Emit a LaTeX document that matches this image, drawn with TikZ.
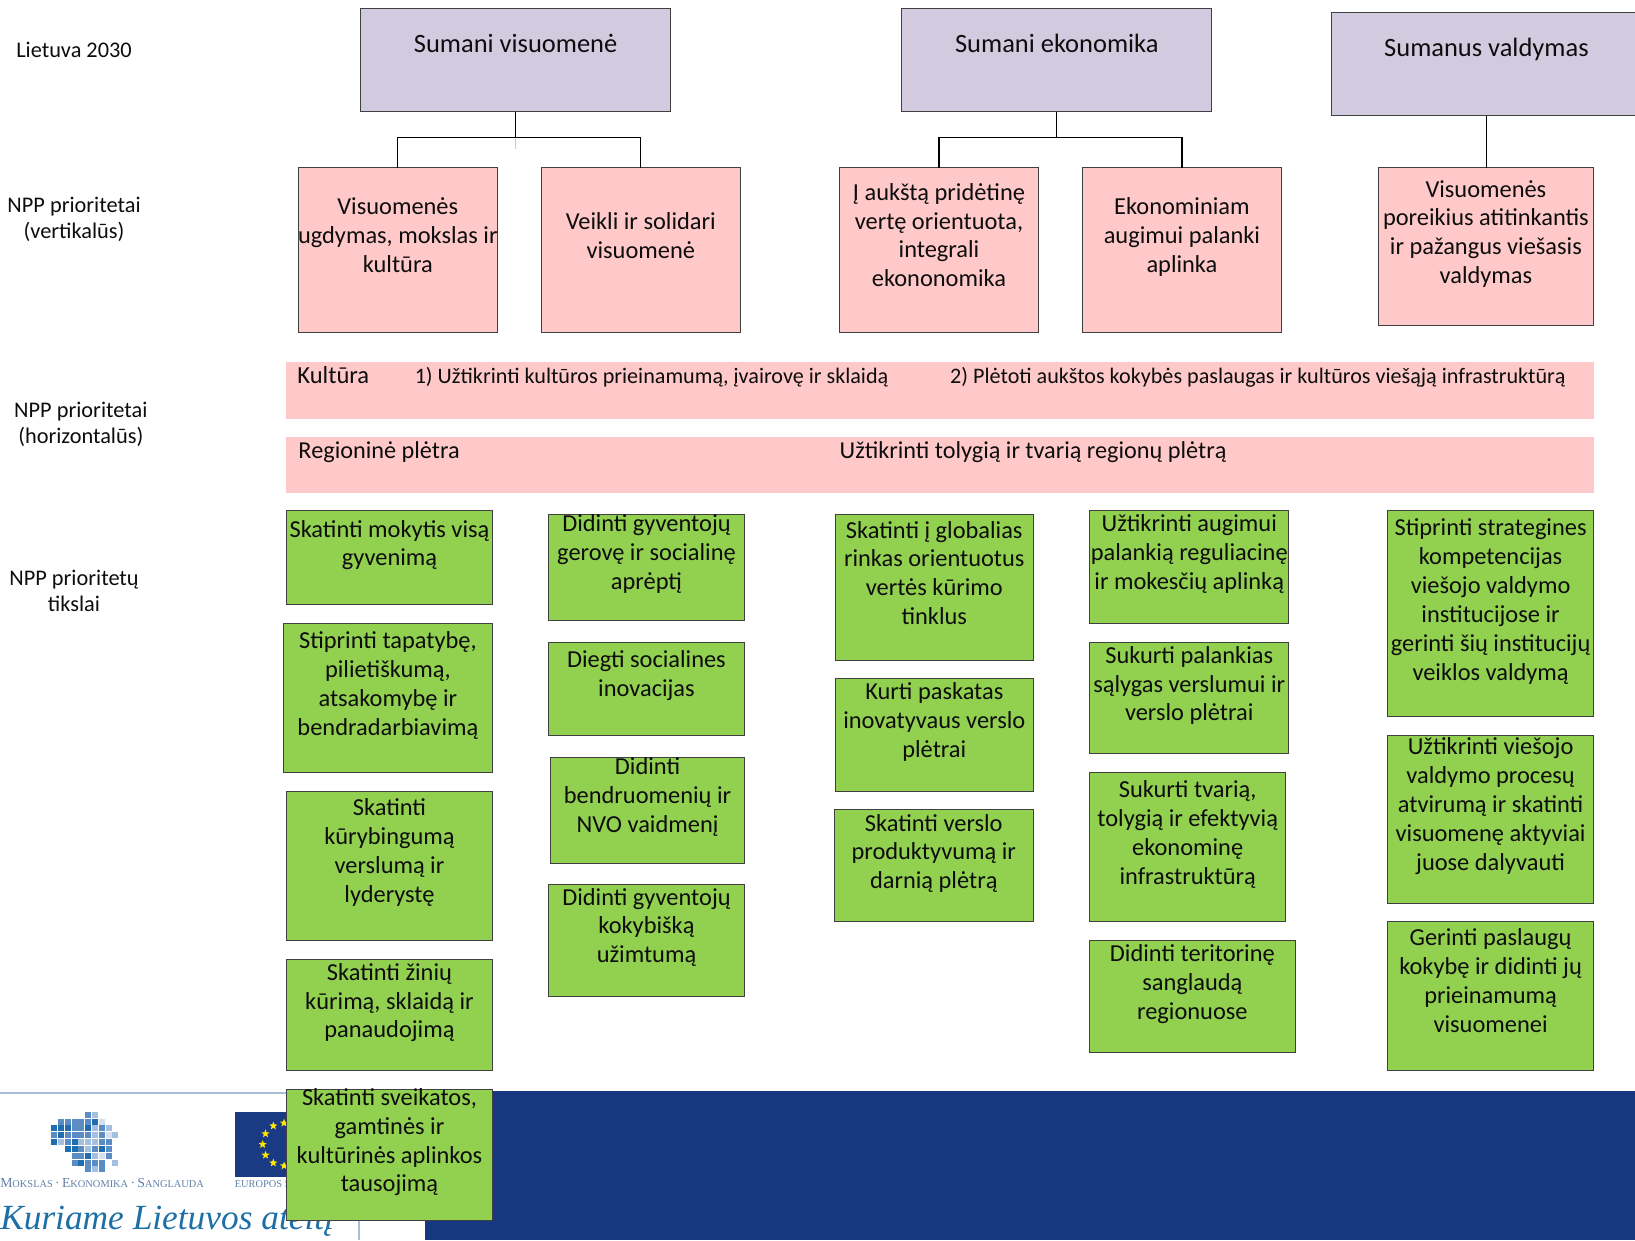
\documentclass[tikz,border=0pt]{standalone}
\usepackage{fontspec}
\setmainfont{Carlito}
\newfontfamily\logofont{Liberation Serif}
\usetikzlibrary{shapes.geometric}
\definecolor{purplebox}{HTML}{D2CBDF}
\definecolor{pinkbox}{HTML}{FFC9C9}
\definecolor{greenbox}{HTML}{92D050}
\definecolor{navy}{HTML}{17377F}
\definecolor{rulecol}{HTML}{A8BBD8}
\definecolor{lgD}{HTML}{1F6FB0}
\definecolor{lgM}{HTML}{5B8DC4}
\definecolor{lgL}{HTML}{A5BFE0}
\definecolor{lgP}{HTML}{D5E0EF}
\definecolor{logotext}{HTML}{5F7FA8}
\definecolor{kuriame}{HTML}{1D6FA5}
\definecolor{euro}{HTML}{1B3A84}
\newdimen\un \un=0.78203pt
\tikzset{
 x=0.78203pt,y=-0.78203pt,
 boxbase/.style={draw=black!75,line width=0.75pt,inner sep=0pt,outer sep=0pt,anchor=north west,text=black!95},
 purplestyle/.style={boxbase,fill=purplebox},
 pinkstyle/.style={boxbase,fill=pinkbox},
 greenstyle/.style={boxbase,fill=greenbox},
 conn/.style={draw=black,line width=1pt},
 bandstyle/.style={fill=pinkbox,draw=none},
 sidelabel/.style={align=center,font=\fontsize{16.75}{19.55}\selectfont,inner sep=0pt,text=black!95},
 bandtext/.style={anchor=base west,inner sep=0pt,text=black!95},
}
\newcommand{\bxsize}{18.3}
\newcommand{\bx}[8]{%
 \pgfmathsetlengthmacro{\bw}{(#5-#3)*\un}%
 \pgfmathsetlengthmacro{\bh}{(#6-#4)*\un}%
 \pgfmathsetlengthmacro{\boff}{(#7-#4)*\un-15.7pt}%
 \node[#2] (#1) at (#3,#4) {\begin{minipage}[t][\bh][t]{\bw}%
  \fontsize{\bxsize}{21.65}\selectfont\centering
  \leftskip=-20pt plus 1fil \rightskip=-20pt plus 1fil \parindent=0pt
  \vspace*{\boff}\rule{0pt}{16.5pt}#8\par\end{minipage}};%
}
\begin{document}
\begin{tikzpicture}
\useasboundingbox (0,0) rectangle (1568,1189.2);
\clip (0,0) rectangle (1568,1189.2);
% logo strip
\draw[rulecol,line width=1.5pt] (0,1048.5) -- (300,1048.5);
\draw[rulecol,line width=1.5pt] (344.5,1048) -- (344.5,1189.2);
\foreach \c/\r/\k in {5/0/lgM,6/0/lgL,
 1/1/lgM,2/1/lgM,3/1/lgM,4/1/lgM,5/1/lgM,6/1/lgD,7/1/lgP,
 0/2/lgD,1/2/lgD,2/2/lgD,3/2/lgM,4/2/lgM,5/2/lgD,6/2/lgL,7/2/lgM,8/2/lgL,
 0/3/lgM,1/3/lgD,2/3/lgM,3/3/lgM,4/3/lgM,5/3/lgM,6/3/lgL,7/3/lgM,8/3/lgP,9/3/lgL,
 0/4/lgD,1/4/lgL,2/4/lgM,3/4/lgD,4/4/lgL,5/4/lgL,6/4/lgL,7/4/lgM,8/4/lgM,
 2/5/lgD,3/5/lgD,4/5/lgM,5/5/lgL,6/5/lgM,7/5/lgD,8/5/lgM,
 3/6/lgM,4/6/lgM,5/6/lgD,6/6/lgL,7/6/lgP,8/6/lgM,
 3/7/lgM,4/7/lgD,5/7/lgM,6/7/lgM,7/7/lgM,9/7/lgL,
 5/8/lgM,6/8/lgL,7/8/lgM}{
 \fill[\k] ({49.2+\c*6.5},{1066.2+\r*6.55}) rectangle ++(5.8,5.8);
}
\node[anchor=base west,inner sep=0pt,text=logotext,font=\logofont] (motto) at (0,1138.5) {{\fontsize{10.3}{10}\selectfont M}{\fontsize{7.8}{10}\selectfont OKSLAS}{\fontsize{10.3}{10}\selectfont\,·\,E}{\fontsize{7.8}{10}\selectfont KONOMIKA}{\fontsize{10.3}{10}\selectfont\,·\,S}{\fontsize{7.8}{10}\selectfont ANGLAUDA}};
\fill[euro] (225.4,1066) rectangle (320,1129);
\foreach \i in {1,...,12}{
 \node[star,star points=5,star point ratio=2.4,fill=yellow!90!orange,inner sep=0pt,minimum size=6.5pt,draw=none] (s\i) at ({272.4+20.5*cos(30*\i)},{1097.5+20.5*sin(30*\i)}) {};
}
\node[anchor=base west,inner sep=0pt,text=logotext,font=\logofont\fontsize{7.8}{10}\selectfont] (eu) at (225,1138.5) {EUROPOS SĄJUNGA};
\node[anchor=base west,inner sep=0pt,text=kuriame,font=\logofont\itshape\fontsize{26.5}{30}\selectfont] (kur) at (0,1179.5) {Kuriame Lietuvos ateitį};
\fill[navy] (407.6,1046.5) rectangle (1568,1189.2);
% left labels
\node[sidelabel] (l1) at (71,48) {Lietuva 2030};
\node[sidelabel] (l2) at (71,210.5) {NPP prioritetai\\(vertikalūs)};
\node[sidelabel] (l3) at (77.5,407) {NPP prioritetai\\(horizontalūs)};
\node[sidelabel] (l4) at (71,567) {NPP prioritetų\\tikslai};
% top boxes
\renewcommand{\bxsize}{19.85}
\bx{p1}{purplestyle}{346}{8}{643}{107}{49}{Sumani visuomenė}
\bx{p2}{purplestyle}{865}{8}{1162}{107}{49}{Sumani ekonomika}
\bx{p3}{purplestyle}{1277}{12}{1574}{111}{53}{Sumanus valdymas}
\renewcommand{\bxsize}{18.3}
% pink boxes
\bx{v1}{pinkstyle}{286}{161}{477}{319}{205}{Visuomenės\\ugdymas, mokslas ir\\kultūra}
\bx{v2}{pinkstyle}{519}{161}{710}{319}{219}{Veikli ir solidari\\visuomenė}
\bx{v3}{pinkstyle}{805}{161}{996}{319}{191}{Į aukštą pridėtinę\\vertę orientuota,\\integrali\\ekononomika}
\bx{v4}{pinkstyle}{1038}{161}{1229}{319}{205}{Ekonominiam\\augimui palanki\\aplinka}
\bx{v5}{pinkstyle}{1322}{161}{1528}{312}{188}{Visuomenės\\poreikius atitinkantis\\ir pažangus viešasis\\valdymas}
% connectors
\coordinate (h) at (0,132);
\coordinate (hb) at (0,143);
\coordinate (j1) at (p1.south |- h);
\coordinate (j2) at (p2.south |- h);
\coordinate (tick) at (p1.south |- hb);
\draw[draw=orange!50,line width=0.8pt] (j1) -- (tick);
\draw[conn] (p1.south) -- (j1);
\draw[conn] (v1.north) |- (j1) -| (v2.north);
\draw[conn] (p2.south) -- (j2);
\draw[conn] (v3.north) |- (j2) -| (v4.north);
\draw[conn] (p3.south) -- (p3.south |- v5.north);
% bands
\node[bandstyle,anchor=north west,minimum width=1254*\un,minimum height=55*\un,inner sep=0pt] (b1) at (274,347) {};
\node[bandstyle,anchor=north west,minimum width=1254*\un,minimum height=54*\un,inner sep=0pt] (b2) at (274,419) {};
\node[bandtext,font=\fontsize{18.4}{21}\selectfont] (t1) at (285,368) {Kultūra};
\node[bandtext,font=\fontsize{16.6}{20}\selectfont] (t2) at (397.5,368) {1) Užtikrinti kultūros prieinamumą, įvairovę ir sklaidą};
\node[bandtext,font=\fontsize{16.6}{20}\selectfont] (t3) at (911,368) {2) Plėtoti aukštos kokybės paslaugas ir kultūros viešąją infrastruktūrą};
\node[bandtext,font=\fontsize{18.2}{21}\selectfont] (t4) at (286,440) {Regioninė plėtra};
\node[bandtext,font=\fontsize{18.2}{21}\selectfont] (t5) at (805,440) {Užtikrinti tolygią ir tvarią regionų plėtrą};
% green col 1
\bx{g11}{greenstyle}{275}{490}{472}{580}{514}{Skatinti mokytis visą\\gyvenimą}
\bx{g12}{greenstyle}{272}{598}{472}{741}{621}{Stiprinti tapatybę,\\pilietiškumą,\\atsakomybę ir\\bendradarbiavimą}
\bx{g13}{greenstyle}{275}{759}{472}{902}{781}{Skatinti\\kūrybingumą\\verslumą ir\\lyderystę}
\bx{g14}{greenstyle}{275}{920}{472}{1027}{939}{Skatinti žinių\\kūrimą, sklaidą ir\\panaudojimą}
\bx{g15}{greenstyle}{275}{1045}{472}{1170}{1059}{Skatinti sveikatos,\\gamtinės ir\\kultūrinės aplinkos\\tausojimą}
% col 2
\bx{g21}{greenstyle}{526}{493}{714}{595}{509}{Didinti gyventojų\\gerovę ir socialinę\\aprėptį}
\bx{g22}{greenstyle}{526}{616}{714}{705}{639}{Diegti socialines\\inovacijas}
\bx{g23}{greenstyle}{528}{726}{714}{828}{742}{Didinti\\bendruomenių ir\\NVO vaidmenį}
\bx{g24}{greenstyle}{526}{848}{714}{956}{867}{Didinti gyventojų\\kokybišką\\užimtumą}
% col 3
\bx{g31}{greenstyle}{801}{493}{991}{633}{515}{Skatinti į globalias\\rinkas orientuotus\\vertės kūrimo\\tinklus}
\bx{g32}{greenstyle}{801}{651}{991}{759}{670}{Kurti paskatas\\inovatyvaus verslo\\plėtrai}
\bx{g33}{greenstyle}{800}{776}{991}{884}{796}{Skatinti verslo\\produktyvumą ir\\darnią plėtrą}
% col 4
\bx{g41}{greenstyle}{1045}{490}{1236}{598}{509}{Užtikrinti augimui\\palankią reguliacinę\\ir mokesčių aplinką}
\bx{g42}{greenstyle}{1045}{616}{1236}{723}{635}{Sukurti palankias\\sąlygas verslumui ir\\verslo plėtrai}
\bx{g43}{greenstyle}{1045}{741}{1233}{884}{764}{Sukurti tvarią,\\tolygią ir efektyvią\\ekonominę\\infrastruktūrą}
\bx{g44}{greenstyle}{1045}{902}{1242}{1009}{921}{Didinti teritorinę\\sanglaudą\\regionuose}
% col 5
\bx{g51}{greenstyle}{1331}{490}{1528}{687}{513}{Stiprinti strategines\\kompetencijas\\viešojo valdymo\\institucijose ir\\gerinti šių institucijų\\veiklos valdymą}
\bx{g52}{greenstyle}{1331}{705}{1528}{866}{723}{Užtikrinti viešojo\\valdymo procesų\\atvirumą ir skatinti\\visuomenę aktyviai\\juose dalyvauti}
\bx{g53}{greenstyle}{1331}{884}{1528}{1027}{906}{Gerinti paslaugų\\kokybę ir didinti jų\\prieinamumą\\visuomenei}
\end{tikzpicture}
\end{document}
